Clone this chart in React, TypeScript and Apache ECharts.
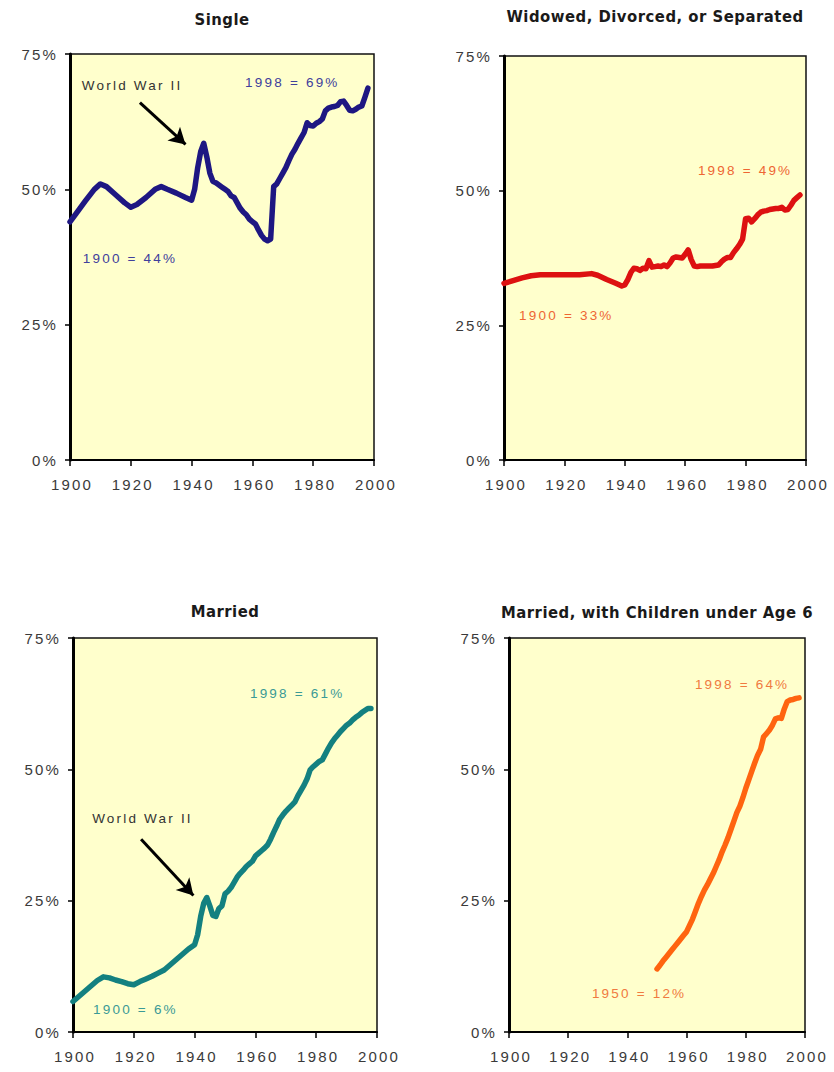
import React, { useEffect, useRef } from "react";
import * as echarts from "echarts";

// ---------- data ----------
const xTicks = { min: 1900, max: 2000, interval: 20 };
const yTicks = { min: 0, max: 75, interval: 25 };

const single: [number, number][] = [
  [1900, 44], [1902, 45.5], [1905, 47.8], [1908, 50], [1910, 51], [1912, 50.5], [1915, 49], [1918, 47.5],
  [1920, 46.7], [1922, 47.2], [1925, 48.5], [1928, 50], [1930, 50.5], [1932, 50], [1935, 49.3], [1938, 48.5],
  [1940, 48], [1941, 50], [1942, 54], [1943, 57], [1944, 58.5], [1945, 56], [1946, 53], [1947, 51.5],
  [1948, 51.2], [1949, 50.8], [1950, 50.4], [1951, 50], [1952, 49.6], [1953, 48.8], [1954, 48.5], [1955, 47.5],
  [1956, 46.5], [1957, 45.8], [1958, 45.3], [1959, 44.5], [1960, 44], [1961, 43.6], [1962, 42.5], [1963, 41.5],
  [1964, 40.8], [1965, 40.5], [1966, 40.8], [1967, 50.5], [1968, 51], [1969, 52], [1970, 53], [1971, 54],
  [1972, 55.3], [1973, 56.5], [1974, 57.4], [1975, 58.5], [1976, 59.5], [1977, 60.5], [1978, 62.3], [1979, 61.8],
  [1980, 61.7], [1981, 62.2], [1982, 62.5], [1983, 63], [1984, 64.5], [1985, 65], [1986, 65.2], [1987, 65.3],
  [1988, 65.5], [1989, 66.2], [1990, 66.3], [1991, 65.5], [1992, 64.6], [1993, 64.5], [1994, 64.8], [1995, 65.2],
  [1996, 65.4], [1997, 67], [1998, 68.7],
];

const widowed: [number, number][] = [
  [1900, 32.8], [1903, 33.3], [1906, 33.8], [1909, 34.2], [1912, 34.4], [1915, 34.4], [1920, 34.4], [1925, 34.4],
  [1929, 34.6], [1931, 34.3], [1934, 33.5], [1937, 32.8], [1939, 32.3], [1940, 32.5], [1941, 33.5], [1942, 34.8],
  [1943, 35.6], [1944, 35.5], [1945, 35.2], [1946, 35.6], [1947, 35.5], [1948, 37], [1949, 35.8], [1950, 35.9],
  [1951, 36], [1952, 35.9], [1953, 36.2], [1954, 35.9], [1955, 36.6], [1956, 37.5], [1957, 37.7], [1958, 37.6],
  [1959, 37.5], [1960, 38.2], [1961, 39], [1962, 37.2], [1963, 36], [1964, 35.9], [1965, 36], [1966, 36],
  [1967, 36], [1968, 36], [1969, 36], [1970, 36.1], [1971, 36.2], [1972, 36.8], [1973, 37.3], [1974, 37.6],
  [1975, 37.6], [1976, 38.5], [1977, 39.2], [1978, 40], [1979, 41], [1980, 44.8], [1981, 44.9], [1982, 44.2],
  [1983, 44.8], [1984, 45.5], [1985, 46], [1986, 46.2], [1987, 46.3], [1988, 46.5], [1989, 46.6], [1990, 46.7],
  [1991, 46.7], [1992, 46.9], [1993, 46.4], [1994, 46.5], [1995, 47.3], [1996, 48.2], [1997, 48.7], [1998, 49.2],
];

const married: [number, number][] = [
  [1900, 5.8], [1902, 6.8], [1904, 7.8], [1906, 8.8], [1908, 9.8], [1910, 10.5], [1912, 10.3], [1914, 9.9],
  [1916, 9.6], [1918, 9.2], [1920, 9], [1922, 9.6], [1924, 10.1], [1926, 10.6], [1928, 11.2], [1930, 11.8],
  [1932, 12.8], [1934, 13.8], [1936, 14.8], [1938, 15.8], [1940, 16.6], [1941, 18.5], [1942, 22], [1943, 24.5],
  [1944, 25.6], [1945, 24], [1946, 22.2], [1947, 22], [1948, 23.5], [1949, 24], [1950, 26.3], [1951, 26.8],
  [1952, 27.5], [1953, 28.5], [1954, 29.5], [1955, 30.2], [1956, 30.8], [1957, 31.5], [1958, 32], [1959, 32.5],
  [1960, 33.5], [1961, 34], [1962, 34.5], [1963, 35], [1964, 35.6], [1965, 36.7], [1966, 38], [1967, 39.2],
  [1968, 40.5], [1969, 41.3], [1970, 42], [1971, 42.6], [1972, 43.2], [1973, 43.8], [1974, 45], [1975, 46],
  [1976, 47], [1977, 48.2], [1978, 49.9], [1979, 50.5], [1980, 51], [1981, 51.5], [1982, 51.8], [1983, 52.9],
  [1984, 54], [1985, 55], [1986, 55.8], [1987, 56.5], [1988, 57.2], [1989, 57.8], [1990, 58.4], [1991, 58.8],
  [1992, 59.4], [1993, 59.9], [1994, 60.3], [1995, 60.8], [1996, 61.2], [1997, 61.6], [1998, 61.6],
];

const marriedKids: [number, number][] = [
  [1950, 12], [1951, 12.7], [1952, 13.5], [1953, 14.2], [1954, 14.9], [1955, 15.6], [1956, 16.3], [1957, 17],
  [1958, 17.7], [1959, 18.4], [1960, 19.1], [1961, 20.3], [1962, 21.5], [1963, 23], [1964, 24.5], [1965, 25.8],
  [1966, 27], [1967, 28], [1968, 29.1], [1969, 30.2], [1970, 31.5], [1971, 32.8], [1972, 34.3], [1973, 35.6],
  [1974, 37], [1975, 38.6], [1976, 40.2], [1977, 41.8], [1978, 43], [1979, 44.6], [1980, 46.4], [1981, 48],
  [1982, 49.6], [1983, 51.2], [1984, 52.7], [1985, 53.8], [1986, 56.2], [1987, 56.8], [1988, 57.5], [1989, 58.4],
  [1990, 59.6], [1991, 59.8], [1992, 59.7], [1993, 61.5], [1994, 62.9], [1995, 63.2], [1996, 63.3], [1997, 63.5],
  [1998, 63.6],
];

const titles = [
  "Single",
  "Widowed, Divorced, or Separated",
  "Married",
  "Married, with Children under Age 6",
];

// annotations: [text, year, value] (left edge, vertical middle)
const singleNotes: [string, number, number][] = [
  ["World War II", 1903.9, 69.1],
  ["1998 = 69%", 1957.6, 69.7],
  ["1900 = 44%", 1904.2, 37.2],
];
const widowedNotes: [string, number, number][] = [
  ["1998 = 49%", 1964.2, 53.8],
  ["1900 = 33%", 1905, 26.9],
];
const marriedNotes: [string, number, number][] = [
  ["World War II", 1906.3, 40.7],
  ["1998 = 61%", 1958.2, 64.5],
  ["1900 = 6%", 1906.6, 4.2],
];
const kidsNotes: [string, number, number][] = [
  ["1998 = 64%", 1962.8, 66.1],
  ["1950 = 12%", 1928, 7.4],
];

// arrows: [fromYear, fromValue, toYear, toValue]
const singleArrow: [number, number, number, number] = [1923, 66, 1938, 58.3];
const marriedArrow: [number, number, number, number] = [1922.4, 36.7, 1939.6, 26];

// ---------- layout / style ----------
const panels = [
  { data: single, notes: singleNotes, arrow: singleArrow, line: "#1E1782", text: "#40409C",
    grid: { left: 70, top: 54, width: 304, height: 406 }, titleY: 19 },
  { data: widowed, notes: widowedNotes, arrow: null, line: "#DD1111", text: "#EE6633",
    grid: { left: 504, top: 56, width: 302, height: 404 }, titleY: 16 },
  { data: married, notes: marriedNotes, arrow: marriedArrow, line: "#138080", text: "#3A9A96",
    grid: { left: 73, top: 638, width: 304, height: 394 }, titleY: 611 },
  { data: marriedKids, notes: kidsNotes, arrow: null, line: "#FF6410", text: "#F07A40",
    grid: { left: 509, top: 638, width: 296, height: 394 }, titleY: 612 },
];

const TICK_FONT = "Helvetica, 'Liberation Sans', Arial, sans-serif";
const NOTE_FONT = "Arial, 'Liberation Sans', sans-serif";
const TITLE_FONT = "'Liberation Sans Narrow', 'DejaVu Sans Condensed', 'DejaVu Sans', sans-serif";

export default function App() {
  const ref = useRef<HTMLDivElement>(null);

  useEffect(() => {
    if (!ref.current) return;
    const chart = echarts.init(ref.current, undefined, { renderer: "svg" });

    const option: any = {
      animation: false,
      backgroundColor: "#ffffff",
      grid: panels.map((p) => ({
        ...p.grid,
        show: true,
        backgroundColor: "#FFFFCC",
        borderColor: "#111",
        borderWidth: 1.5,
        containLabel: false,
      })),
      xAxis: panels.map((p, i) => ({
        type: "value",
        gridIndex: i,
        min: xTicks.min,
        max: xTicks.max,
        interval: xTicks.interval,
        axisLine: { show: true, onZero: false, lineStyle: { color: "#000", width: 2 } },
        axisTick: { show: true, inside: false, length: 6, lineStyle: { color: "#000", width: 1.5 } },
        splitLine: { show: false },
        axisLabel: {
          show: true,
          margin: 17,
          color: "#3a3a3a",
          fontSize: 15,
          fontFamily: TICK_FONT,
          padding: [0, 0, 0, 4],
          formatter: (v: number) => String(v),
        },
      })),
      yAxis: panels.map((p, i) => ({
        type: "value",
        gridIndex: i,
        min: yTicks.min,
        max: yTicks.max,
        interval: yTicks.interval,
        axisLine: { show: true, onZero: false, lineStyle: { color: "#000", width: 3 } },
        axisTick: { show: true, inside: false, length: 5, lineStyle: { color: "#000", width: 1.5 } },
        splitLine: { show: false },
        axisLabel: {
          show: true,
          margin: 12,
          color: "#3a3a3a",
          fontSize: 15,
          fontFamily: TICK_FONT,
          formatter: "{value}%",
        },
      })),
      series: panels.map((p, i) => ({
        type: "line",
        xAxisIndex: i,
        yAxisIndex: i,
        data: p.data,
        showSymbol: false,
        symbol: "none",
        lineStyle: { color: p.line, width: 5.5, cap: "round", join: "round" },
        silent: true,
        markLine: p.arrow
          ? {
              silent: true,
              symbol: ["none", "arrow"],
              symbolSize: [14, 16],
              label: { show: false },
              lineStyle: { color: "#000", width: 3, type: "solid" },
              data: [[{ coord: [p.arrow[0], p.arrow[1]] }, { coord: [p.arrow[2], p.arrow[3]] }]],
            }
          : undefined,
      })),
    };
    chart.setOption(option);

    const graphics: any[] = [];
    panels.forEach((p, i) => {
      graphics.push({
        type: "text",
        x: p.grid.left + p.grid.width / 2,
        y: p.titleY,
        style: {
          text: titles[i],
          fill: "#1a1a1a",
          fontSize: 16.5,
          fontWeight: "bold",
          fontFamily: TITLE_FONT,
          align: "center",
          verticalAlign: "middle",
        },
      });
      p.notes.forEach(([t, x, y]) => {
        const pt = chart.convertToPixel({ xAxisIndex: i, yAxisIndex: i }, [x, y]) as number[];
        const isWW = t.startsWith("World");
        graphics.push({
          type: "text",
          x: pt[0],
          y: pt[1],
          style: {
            text: t,
            fill: isWW ? "#333" : p.text,
            fontSize: 13.5,
            fontFamily: NOTE_FONT,
            align: "left",
            verticalAlign: "middle",
          },
        });
      });
    });
    chart.setOption({ graphic: graphics });

    return () => chart.dispose();
  }, []);

  return (
    <>
      <style>{`
        #chart svg text[style*="Helvetica"] { letter-spacing: 4px; }
        #chart svg text[style*="Arial,"] { letter-spacing: 2.2px; }
        #chart svg text[style*="Narrow"] { letter-spacing: 0.5px; }
      `}</style>
      <div
        id="chart"
        ref={ref}
        style={{ position: "absolute", left: 0, top: 0, width: 834, height: 1072 }}
      />
    </>
  );
}
